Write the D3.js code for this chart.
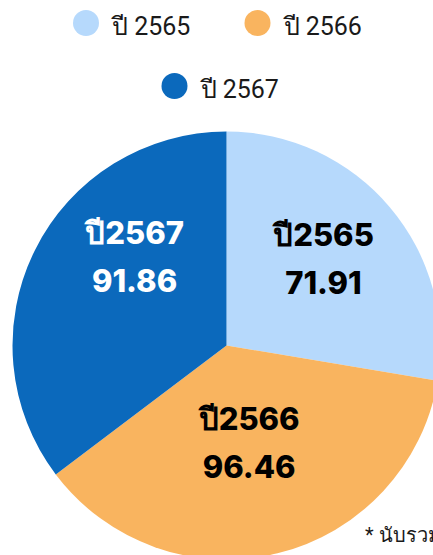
<!DOCTYPE html>
<html lang="th">
<head>
  <meta charset="UTF-8">
  <title>Pie chart</title>
  <script src="https://d3js.org/d3.v7.min.js"></script>
  <style>
    html, body { margin: 0; padding: 0; background: #fff; }
    svg { display: block; }
    .legend text { font-family: Roboto, "Noto Sans", sans-serif; font-size: 25px; fill: #1a1a1a; }
    .slice-label { font-family: Inter, "Noto Sans", sans-serif; font-size: 31px; font-weight: 800; }
    .note { font-family: Roboto, "Noto Sans", sans-serif; font-size: 20px; fill: #1a1a1a; }
  </style>
</head>
<body>
<svg id="chart" width="433" height="555"></svg>
<script>
  // Data
  const categories = ["2565", "2566", "2567"];
  const values = [71.91, 96.46, 91.86];
  const legendLabels = ["ปี 2565", "ปี 2566", "ปี 2567"];
  const sliceLabels = ["ปี2565", "ปี2566", "ปี2567"];
  const colors = ["#b6d9fc", "#f9b45f", "#0b69bc"];
  const labelColors = ["#000", "#000", "#fff"];
  // small nudges so the labels sit where the original puts them
  const labelNudge = [[-1, -4], [-8, -27], [23, -31]];

  const width = 433, height = 555;
  const cx = 226.5, cy = 345.5, radius = 214;

  const svg = d3.select("#chart");

  const color = d3.scaleOrdinal().domain(categories).range(colors);

  const pie = d3.pie().sort(null).value(d => d.value);
  const data = categories.map((c, i) => ({ cat: c, value: values[i], i }));
  const arcs = pie(data);

  const arc = d3.arc().innerRadius(0).outerRadius(radius);
  const labelArc = d3.arc().innerRadius(radius * 0.6).outerRadius(radius * 0.6);

  const g = svg.append("g").attr("transform", `translate(${cx},${cy})`);

  g.selectAll("path")
    .data(arcs)
    .enter().append("path")
    .attr("d", arc)
    .attr("fill", d => color(d.data.cat));

  const labels = g.selectAll("g.lbl")
    .data(arcs)
    .enter().append("g")
    .attr("class", "lbl")
    .attr("transform", d => {
      const [x, y] = labelArc.centroid(d);
      const n = labelNudge[d.data.i];
      return `translate(${x + n[0]},${y + n[1]})`;
    });

  labels.append("text")
    .attr("class", "slice-label")
    .attr("text-anchor", "middle")
    .attr("y", -13)
    .attr("fill", d => labelColors[d.data.i])
    .text(d => sliceLabels[d.data.i]);

  labels.append("text")
    .attr("class", "slice-label")
    .attr("text-anchor", "middle")
    .attr("y", 35)
    .attr("fill", d => labelColors[d.data.i])
    .text(d => d3.format(".2f")(d.data.value));

  // Legend: two items on first row, one centred below
  const legendPos = [[86, 23], [257.5, 23], [174.5, 86]];
  const legend = svg.append("g").attr("class", "legend")
    .selectAll("g")
    .data(categories)
    .enter().append("g")
    .attr("transform", (d, i) => `translate(${legendPos[i][0]},${legendPos[i][1]})`);

  legend.append("circle")
    .attr("r", 13)
    .attr("fill", d => color(d));

  legend.append("text")
    .attr("x", 26)
    .attr("y", 12)
    .text((d, i) => legendLabels[i]);

  // footnote runs off the right edge, same as in the original
  svg.append("text")
    .attr("class", "note")
    .attr("x", 365)
    .attr("y", 542)
    .text("* นับรวมทุกหน่วยงาน");
</script>
</body>
</html>
